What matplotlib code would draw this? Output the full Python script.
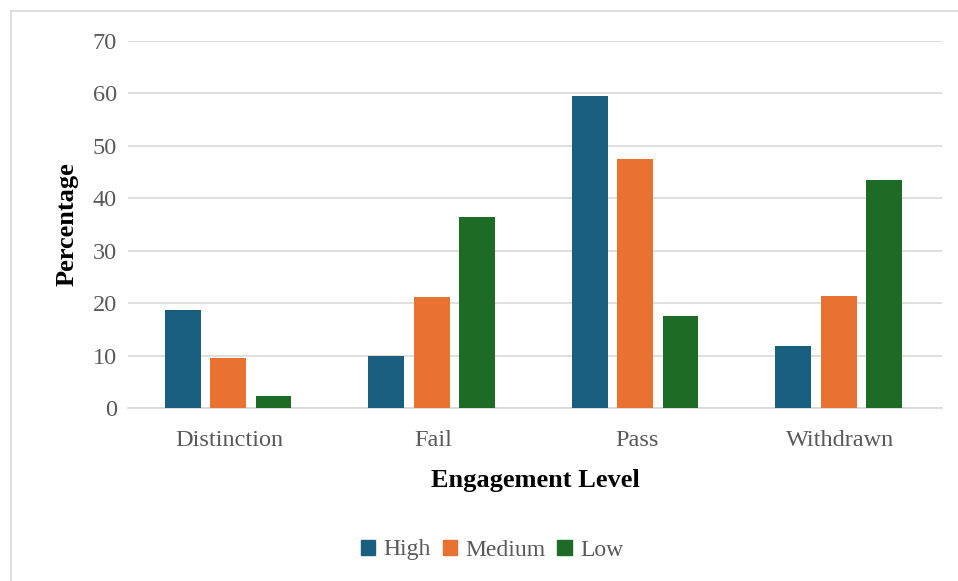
import matplotlib
matplotlib.use("Agg")
import matplotlib.pyplot as plt
import numpy as np
from matplotlib.patches import Rectangle
from matplotlib.lines import Line2D

categories = ["Distinction", "Fail", "Pass", "Withdrawn"]
series_names = ["High", "Medium", "Low"]
high = [18.6, 9.9, 59.5, 11.8]
medium = [9.5, 21.2, 47.4, 21.4]
low = [2.2, 36.5, 17.6, 43.5]
yticks = [0, 10, 20, 30, 40, 50, 60, 70]

colors = ["#1a5e80", "#e97132", "#1e6b25"]
serif = ["Liberation Serif", "DejaVu Serif"]
tick_color = "#595959"

fig = plt.figure(figsize=(9.58, 5.81), dpi=100)
ax = fig.add_axes([128 / 958, 1 - 408 / 581, (942 - 128) / 958, (408 - 41) / 581])

x = np.arange(len(categories))
bar_w = 0.176
step = 0.223
for i, (vals, name, c) in enumerate(zip([high, medium, low], series_names, colors)):
    ax.bar(x + (i - 1) * step - 0.008, vals, width=bar_w, color=c, label=name, zorder=3)

ax.set_xlim(-0.5, 3.5)
ax.set_ylim(0, 70)
ax.set_yticks(yticks)
ax.set_yticklabels([str(t) for t in yticks], family=serif, fontsize=17.5, color=tick_color)
ax.set_xticks(x)
ax.set_xticklabels(categories, family=serif, fontsize=17.5, color=tick_color)
ax.tick_params(axis="both", length=0)
ax.tick_params(axis="y", pad=8)
ax.tick_params(axis="x", pad=16)
ax.grid(axis="y", color="#d9d9d9", linewidth=1.2, zorder=0)
for s in ["top", "right", "left"]:
    ax.spines[s].set_visible(False)
ax.spines["bottom"].set_color("#d9d9d9")
ax.spines["bottom"].set_linewidth(1.2)

ax.set_ylabel("Percentage", family=serif, fontsize=19, fontweight="bold", labelpad=10)
ax.set_xlabel("Engagement Level", family=serif, fontsize=19, fontweight="bold", labelpad=13)

handles = [Rectangle((0, 0), 1, 1, color=c) for c in colors]
leg = fig.legend(handles, series_names, loc="center", bbox_to_anchor=(492 / 958, 1 - 550 / 581),
                 ncol=3, frameon=False, prop={"family": serif, "size": 17},
                 handlelength=0.62, handleheight=0.62, handletextpad=0.35, columnspacing=0.5)
for t in leg.get_texts():
    t.set_color(tick_color)

# light frame around the chart area
fig.add_artist(Line2D([10.5 / 958, 1.0], [1 - 10.5 / 581, 1 - 10.5 / 581],
                      transform=fig.transFigure, color="#d9d9d9", linewidth=1.2))
fig.add_artist(Line2D([10.5 / 958, 10.5 / 958], [0.0, 1 - 10.5 / 581],
                      transform=fig.transFigure, color="#d9d9d9", linewidth=1.2))

fig.savefig("out.png", dpi=100, facecolor="white")
